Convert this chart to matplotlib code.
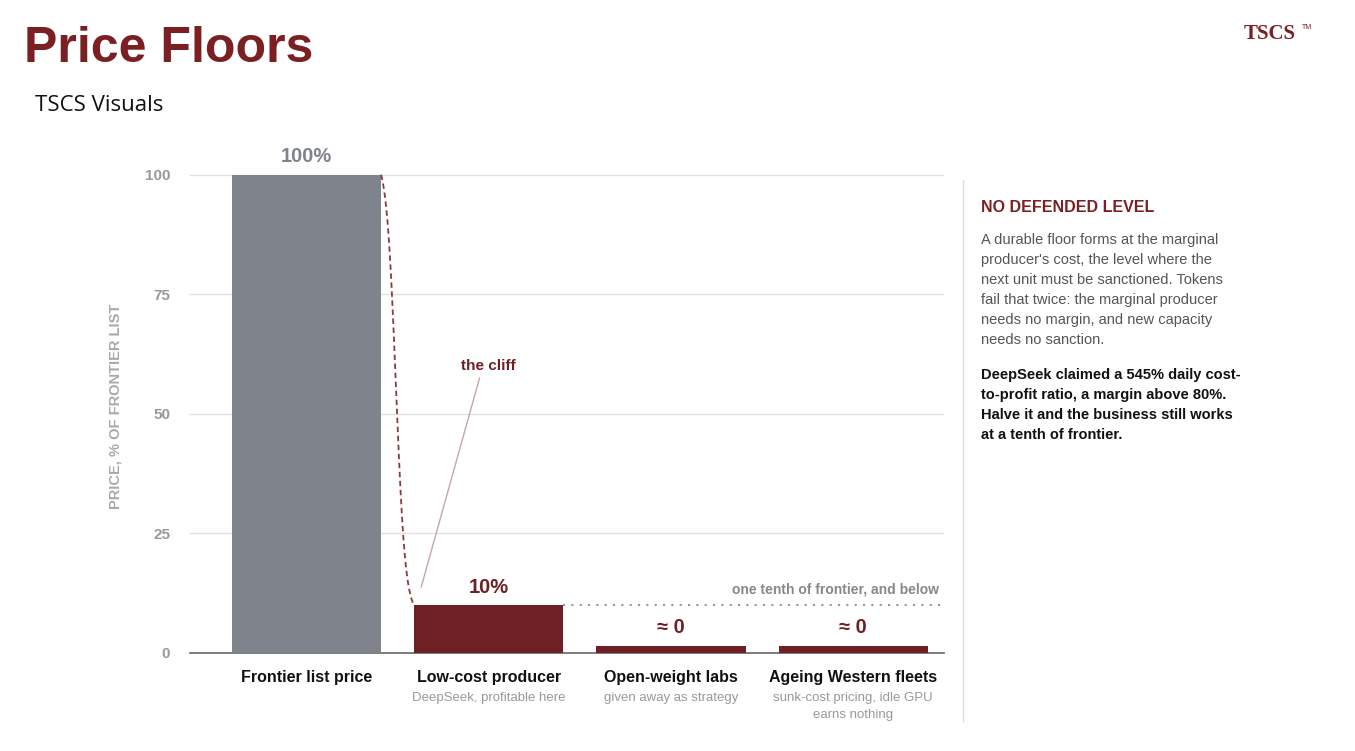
import matplotlib
matplotlib.use("Agg")
import matplotlib.pyplot as plt
import numpy as np

categories = ["Frontier list price", "Low-cost producer", "Open-weight labs", "Ageing Western fleets"]
subtitles = ["", "DeepSeek, profitable here", "given away as strategy", "sunk-cost pricing, idle GPU\nearns nothing"]
values = [100, 10, 1.5, 1.5]
value_labels = ["100%", "10%", "≈ 0", "≈ 0"]
colors = ["#7f838c", "#6e2024", "#6e2024", "#6e2024"]
label_colors = ["#7f838c", "#6e2024", "#6e2024", "#6e2024"]
yticks = [0, 25, 50, 75, 100]

plt.rcParams['font.family'] = ['Liberation Sans', 'DejaVu Sans']
fig = plt.figure(figsize=(13.55, 7.51), dpi=100)
fig.patch.set_facecolor("white")
ax = fig.add_axes([0.140, 0.1305, 0.557, 0.656])
x = np.arange(len(categories))
ax.bar(x, values, width=0.82, color=colors, zorder=3)
for xi, v, lab, c in zip(x, values, value_labels, label_colors):
    ax.text(xi, v + 1.8, lab, ha="center", va="bottom", fontsize=14.5, fontweight="bold", color=c)
ax.set_xlim(-0.64, 3.5)
ax.set_ylim(0, 103)
ax.set_yticks(yticks)
ax.set_yticklabels([str(t) for t in yticks], fontsize=11, fontweight="bold", color="#999999")
ax.set_xticks(x)
ax.set_xticklabels([])
for xi, c, s in zip(x, categories, subtitles):
    ax.text(xi, -3.6, c, ha="center", va="top", fontsize=11.5, fontweight="bold", color="#111111")
    ax.text(xi, -8.2, s, ha="center", va="top", fontsize=9.5, color="#999999", linespacing=1.5)
ax.tick_params(length=0, pad=14)
for sp in ["top", "right", "left"]:
    ax.spines[sp].set_visible(False)
ax.spines["bottom"].set_color("#666666")
ax.spines["bottom"].set_linewidth(1.2)
ax.grid(axis="y", color="#e6dede", lw=1, zorder=0)
ax.set_facecolor("none")
ax.set_ylabel("PRICE, % OF FRONTIER LIST", fontsize=10.5, fontweight="bold", color="#aaaaaa", labelpad=16)

# cliff curve
t = np.linspace(0, 1, 200)
k = 7
s0 = 1 / (1 + np.exp(k * 0.45)); s1 = 1 / (1 + np.exp(-k * 0.55))
cx = 0.41 + 0.18 * t
cy = 100 - 90 * (1 / (1 + np.exp(-k * (t - 0.45))) - s0) / (s1 - s0)
ax.plot(cx, cy, color="#8b3a3e", lw=1.3, ls=(0, (3, 2)), zorder=4)
ax.plot([0.95, 0.63], [57.5, 13.8], color="#c9a5a5", lw=1, zorder=4)
ax.text(1.0, 58.5, "the cliff", ha="center", va="bottom", fontsize=11, fontweight="bold", color="#6e2024")
ax.plot([1.41, 3.5], [10, 10], color="#999999", lw=1.5, ls=(0, (1, 3)), zorder=2)
ax.text(3.47, 11.8, "one tenth of frontier, and below", ha="right", va="bottom", fontsize=10, fontweight="bold", color="#888888")

# title
fig.text(0.018, 0.935, "Price Floors", fontsize=36, fontweight="bold", color="#7b1f22", va="center")
fig.text(0.026, 0.860, "TSCS Visuals", fontsize=16, color="#111111", va="center", family=["Open Sans", "DejaVu Sans"])
fig.text(0.918, 0.955, "TSCS", fontsize=15, fontweight="bold", color="#7b1f22", va="center", family=["Liberation Serif"])
fig.text(0.961, 0.963, "TM", fontsize=5, color="#7b1f22", va="center")

# right panel
fig.add_artist(plt.Line2D([0.711, 0.711], [0.04, 0.76], color="#dddddd", lw=1))
fig.text(0.724, 0.724, "NO DEFENDED LEVEL", fontsize=11.5, fontweight="bold", color="#7b1f22", va="center")
fig.text(0.724, 0.690, "A durable floor forms at the marginal\nproducer's cost, the level where the\nnext unit must be sanctioned. Tokens\nfail that twice: the marginal producer\nneeds no margin, and new capacity\nneeds no sanction.",
         fontsize=10.5, color="#555555", va="top", linespacing=1.55)
fig.text(0.724, 0.510, "DeepSeek claimed a 545% daily cost-\nto-profit ratio, a margin above 80%.\nHalve it and the business still works\nat a tenth of frontier.",
         fontsize=10.5, fontweight="bold", color="#111111", va="top", linespacing=1.55)

fig.savefig("out.png", dpi=100)
